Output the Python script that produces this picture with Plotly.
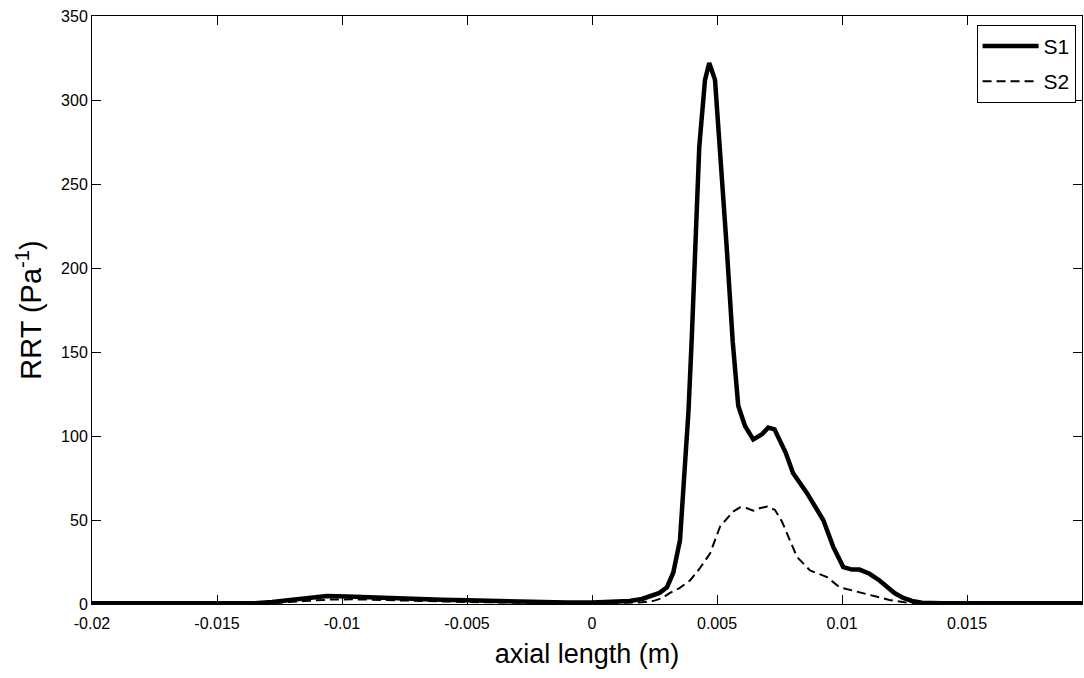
import plotly.graph_objects as go

# Series S1 (solid)
x_s1 = [-0.02, -0.0135, -0.0128, -0.012, -0.0112, -0.0106, -0.0098, -0.009, -0.008, -0.007,
        -0.006, -0.005, -0.004, -0.003, -0.002, -0.001, 0.0, 0.001, 0.0015, 0.002,
        0.0024, 0.0027, 0.003, 0.00325, 0.00352, 0.00372, 0.00386, 0.00399, 0.00412, 0.00429,
        0.00452, 0.00469, 0.00492, 0.00512, 0.00539, 0.00563, 0.00585, 0.00612, 0.00645, 0.0068,
        0.00705, 0.0073, 0.0075, 0.00775, 0.00804, 0.0086, 0.00925, 0.00965, 0.01005, 0.0104,
        0.0107, 0.0111, 0.0115, 0.0118, 0.0121, 0.01245, 0.0128, 0.0132, 0.014, 0.0196]
y_s1 = [0.4, 0.5, 1.2, 2.5, 3.8, 4.8, 4.5, 4.0, 3.5, 3.0,
        2.6, 2.2, 1.8, 1.4, 1.1, 0.9, 0.9, 1.3, 1.8, 3.0,
        4.8, 6.6, 10, 18.6, 38, 78.5, 115, 158, 212, 272,
        312, 322, 312, 272, 212, 156, 118, 106, 98, 101,
        105, 104, 98, 90, 78, 66, 50, 34, 22, 20.5,
        20.5, 18, 14, 10, 6.5, 3.6, 1.8, 0.8, 0.4, 0.4]

# Series S2 (dashed)
x_s2 = [-0.02, -0.0135, -0.0125, -0.0115, -0.0105, -0.0095, -0.0085, -0.007, -0.005, -0.003,
        -0.001, 0.001, 0.002, 0.0025, 0.0028, 0.00312, 0.0035, 0.00392, 0.0043, 0.00472,
        0.00512, 0.00545, 0.00564, 0.00592, 0.0062, 0.00645, 0.0067, 0.0070, 0.00732, 0.0076,
        0.0078, 0.0082, 0.00872, 0.0094, 0.0099, 0.01085, 0.0119, 0.0125, 0.013, 0.0196]
y_s2 = [0.3, 0.4, 0.8, 1.8, 2.6, 2.8, 2.4, 1.8, 1.2, 0.8,
        0.6, 0.7, 1.0, 2.0, 3.5, 6.6, 9.5, 14, 21, 30,
        46, 52, 55, 57.5, 57, 55.5, 57, 58, 56, 49,
        42, 28, 20, 16, 10, 6.6, 2.4, 1.0, 0.5, 0.3]

x_tickvals = [-0.02, -0.015, -0.01, -0.005, 0, 0.005, 0.01, 0.015]
x_ticktext = ["-0.02", "-0.015", "-0.01", "-0.005", "0", "0.005", "0.01", "0.015"]
y_tickvals = [0, 50, 100, 150, 200, 250, 300, 350]

FONT = "Liberation Sans, Arial, Helvetica, sans-serif"

fig = go.Figure()
fig.add_trace(go.Scatter(x=x_s1, y=y_s1, mode="lines", name="S1", legendgroup="a",
                         line=dict(color="black", width=4.5)))
fig.add_trace(go.Scatter(x=x_s2, y=y_s2, mode="lines", name="S2", legendgroup="b",
                         line=dict(color="black", width=2, dash="9px,5px")))

axis_common = dict(showline=True, linecolor="black", linewidth=1, mirror="ticks",
                   ticks="inside", ticklen=9, tickcolor="black", tickwidth=1,
                   showgrid=False, zeroline=False, automargin=False,
                   tickfont=dict(family=FONT, size=16, color="black"))

fig.update_layout(
    width=1084, height=678,
    margin=dict(l=92, r=2, t=16, b=74),
    paper_bgcolor="white", plot_bgcolor="white",
    font=dict(family=FONT, color="black"),
    xaxis=dict(range=[-0.02, 0.0196], tickvals=x_tickvals, ticktext=x_ticktext,
               ticklabelstandoff=5,
               title=dict(text="axial length (m)", font=dict(size=27), standoff=12),
               **axis_common),
    yaxis=dict(range=[0, 350], tickvals=y_tickvals,
               title=dict(text="RRT (Pa<sup>-1</sup>)", font=dict(size=29), standoff=10),
               **axis_common),
    legend=dict(x=0.8935, y=0.985, xanchor="left", yanchor="top",
                bordercolor="black", borderwidth=1, bgcolor="white", itemwidth=56,
                font=dict(family=FONT, size=21), tracegroupgap=5),
    showlegend=True,
)

fig.write_html("out.html", config={"displayModeBar": False},
               post_script="document.body.style.margin='0';")
